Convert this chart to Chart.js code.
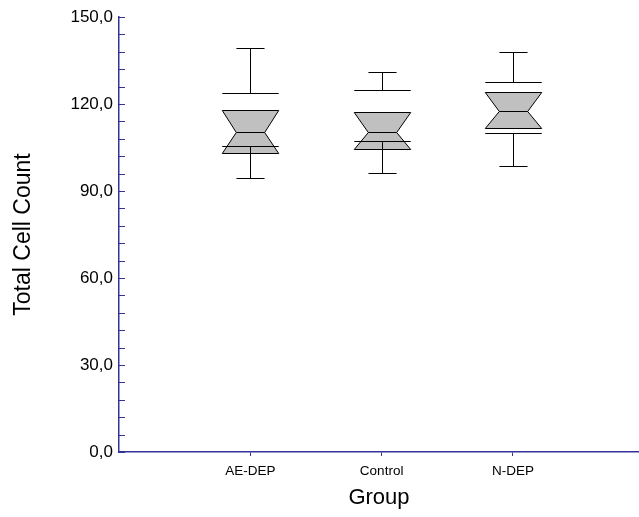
<!DOCTYPE html>
<html lang="en">
<head>
<meta charset="UTF-8">
<title>Total Cell Count by Group</title>
<script src="https://cdn.jsdelivr.net/npm/chart.js"></script>
<style>
    body { margin: 0; background: #fff; }
    .wrap { width: 639px; height: 517px; }
</style>
</head>
<body>
<div class="wrap"><canvas id="chart" width="639" height="517"></canvas></div>
<script>
// values
const groups = ['AE-DEP', 'Control', 'N-DEP'];
const whiskerHigh = [139.2, 130.9, 137.8];
const lineHigh = [123.8, 124.8, 127.7];
const q3 = [117.9, 117.1, 124.0];
const medians = [110.2, 110.2, 117.6];
const q1 = [103.2, 104.5, 111.6];
const lineLow = [105.4, 107.3, 110.1];
const whiskerLow = [94.6, 96.3, 98.6];
const yLabelTicks = [0, 30, 60, 90, 120, 150];

const axisColor = '#33339a';

const boxPlot = {
    id: 'boxPlot',
    afterDatasetsDraw(chart) {
        const ctx = chart.ctx;
        const xs = chart.scales.x, ys = chart.scales.y;
        const unit = xs.getPixelForValue(1) - xs.getPixelForValue(0);
        const bh = unit * 0.215, nh = unit * 0.108, ch = unit * 0.107;
        const py = v => Math.round(ys.getPixelForValue(v)) + 0.5;

        ctx.save();
        ctx.lineWidth = 1;
        ctx.strokeStyle = '#000';
        groups.forEach((g, i) => {
            const x = Math.round(xs.getPixelForValue(i + 1)) + 0.5;
            const yQ3 = py(q3[i]), yMed = py(medians[i]), yQ1 = py(q1[i]);

            // notched box
            ctx.beginPath();
            ctx.moveTo(x - bh, yQ3);
            ctx.lineTo(x + bh, yQ3);
            ctx.lineTo(x + nh, yMed);
            ctx.lineTo(x + bh, yQ1);
            ctx.lineTo(x - bh, yQ1);
            ctx.lineTo(x - nh, yMed);
            ctx.closePath();
            ctx.fillStyle = '#c0c0c0';
            ctx.fill();
            ctx.stroke();

            ctx.beginPath();
            // median
            ctx.moveTo(x - nh, yMed); ctx.lineTo(x + nh, yMed);
            // wide lines
            ctx.moveTo(x - bh, py(lineHigh[i])); ctx.lineTo(x + bh, py(lineHigh[i]));
            ctx.moveTo(x - bh, py(lineLow[i])); ctx.lineTo(x + bh, py(lineLow[i]));
            // whiskers
            ctx.moveTo(x, py(whiskerHigh[i])); ctx.lineTo(x, py(lineHigh[i]));
            ctx.moveTo(x, py(lineLow[i])); ctx.lineTo(x, py(whiskerLow[i]));
            // caps
            ctx.moveTo(x - ch, py(whiskerHigh[i])); ctx.lineTo(x + ch, py(whiskerHigh[i]));
            ctx.moveTo(x - ch, py(whiskerLow[i])); ctx.lineTo(x + ch, py(whiskerLow[i]));
            ctx.stroke();
        });

        // y tick marks point into the plot
        ctx.strokeStyle = axisColor;
        ctx.beginPath();
        ys.ticks.forEach(t => {
            const y = py(t.value);
            ctx.moveTo(ys.right, y);
            ctx.lineTo(ys.right + 6, y);
        });
        ctx.stroke();
        ctx.restore();
    }
};

new Chart(document.getElementById('chart'), {
    type: 'scatter',
    data: {
        datasets: [{
            data: medians.map((m, i) => ({ x: i + 1, y: m })),
            pointRadius: 0
        }]
    },
    options: {
        responsive: false,
        animation: false,
        layout: { padding: { top: 17, right: 0, left: 0, bottom: 0 } },
        plugins: { legend: { display: false }, tooltip: { enabled: false } },
        scales: {
            x: {
                type: 'linear',
                min: 0,
                max: 3.96,
                afterFit(scale) { scale.height = 65; },
                afterBuildTicks(scale) {
                    scale.ticks = groups.map((g, i) => ({ value: i + 1 }));
                },
                ticks: {
                    autoSkip: false,
                    maxRotation: 0,
                    padding: 7,
                    color: '#000',
                    font: { family: 'Liberation Sans, Arial', size: 13.5 },
                    callback: v => groups[v - 1] || ''
                },
                grid: { drawOnChartArea: false, tickLength: 4, color: axisColor },
                border: { color: axisColor, width: 1.5 },
                title: {
                    display: true,
                    text: 'Group',
                    color: '#000',
                    font: { family: 'Liberation Sans, Arial', size: 22 },
                    padding: { top: 0, bottom: 6 }
                }
            },
            y: {
                min: 0,
                max: 150,
                afterFit(scale) { scale.width = 119; },
                ticks: {
                    stepSize: 6,
                    autoSkip: false,
                    padding: 6,
                    color: '#000',
                    font: { family: 'Liberation Sans, Arial', size: 17 },
                    callback: v => yLabelTicks.includes(v) ? v.toFixed(1).replace('.', ',') : ''
                },
                grid: { drawOnChartArea: false, drawTicks: false },
                border: { color: axisColor, width: 1.5 },
                title: {
                    display: true,
                    text: 'Total Cell Count',
                    color: '#000',
                    font: { family: 'Liberation Sans, Arial', size: 23 },
                    padding: { top: 10, bottom: 0 }
                }
            }
        }
    },
    plugins: [boxPlot]
});
</script>
</body>
</html>
